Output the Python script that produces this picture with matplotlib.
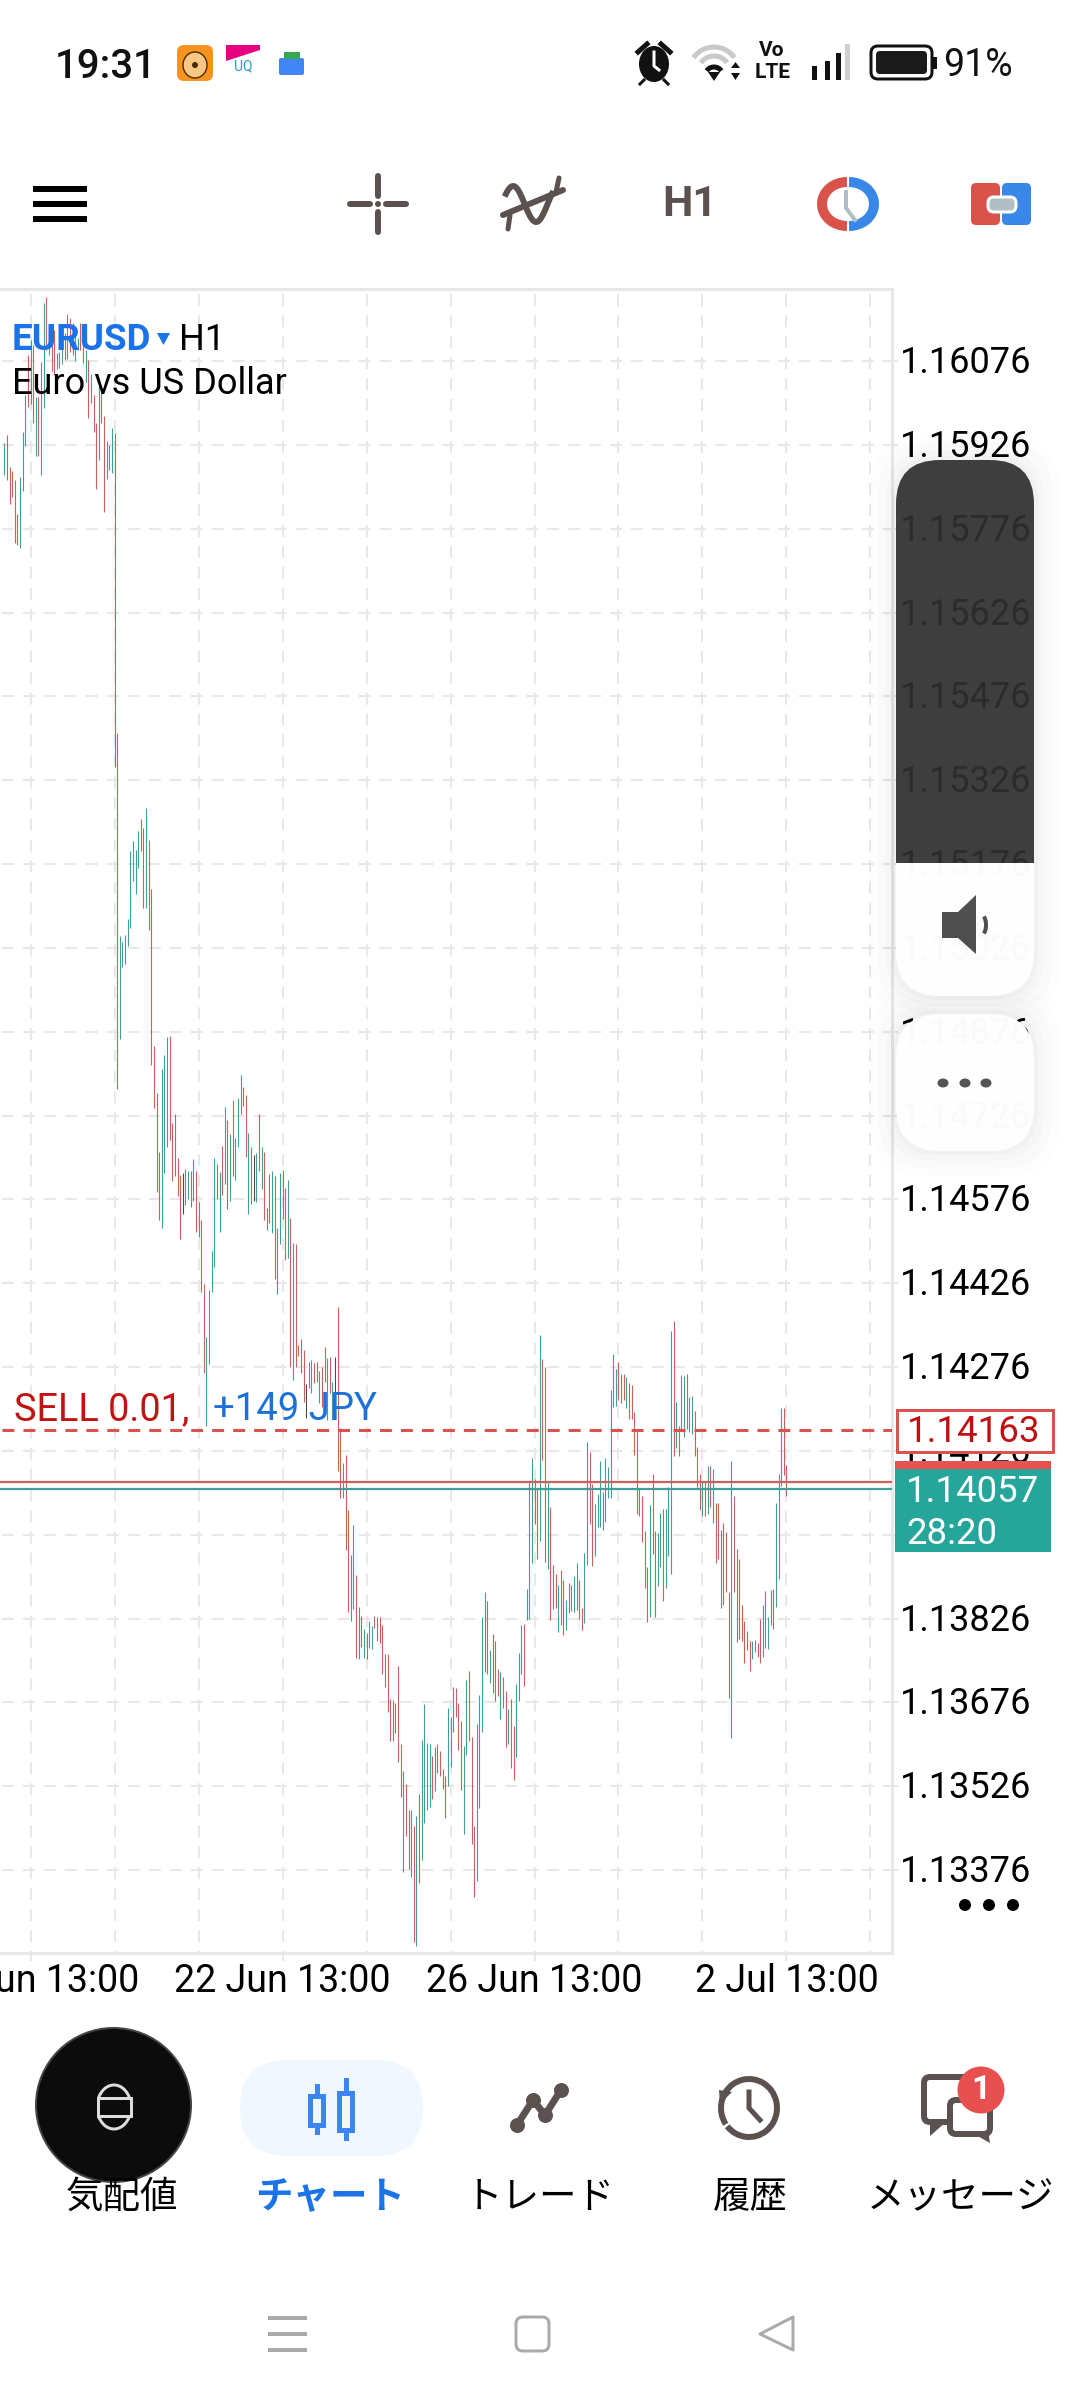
import matplotlib.pyplot as plt
import numpy as np
from matplotlib.patches import Circle, Ellipse, FancyBboxPatch, Polygon, Rectangle, Arc
from matplotlib.transforms import ScaledTranslation

plt.rcParams['font.family'] = ['Roboto', 'Noto Sans CJK JP', 'DejaVu Sans']
plt.rcParams['lines.scale_dashes'] = False

# EURUSD H1 bars
high = [
    1.15929, 1.15944, 1.15886, 1.15879, 1.15863, 1.15802, 1.15869, 1.15949, 1.16015, 1.16087,
    1.16114, 1.16105, 1.16012, 1.16012, 1.16074, 1.16180, 1.16191, 1.16131, 1.16131, 1.16131,
    1.16090, 1.16092, 1.16105, 1.16126, 1.16160, 1.16153, 1.16144, 1.16131, 1.16117, 1.16144,
    1.16140, 1.16096, 1.16078, 1.16053, 1.16015, 1.15965, 1.16033, 1.16024, 1.15978, 1.15933,
    1.15926, 1.15956, 1.15947, 1.15410, 1.15047, 1.15036, 1.15049, 1.15078, 1.15199, 1.15217,
    1.15201, 1.15235, 1.15257, 1.15240, 1.15276, 1.15219, 1.15131, 1.14850, 1.14766, 1.14661,
    1.14809, 1.14834, 1.14866, 1.14868, 1.14713, 1.14729, 1.14650, 1.14620, 1.14623, 1.14630,
    1.14627, 1.14627, 1.14648, 1.14627, 1.14571, 1.14539, 1.14425, 1.14330, 1.14414, 1.14484,
    1.14650, 1.14639, 1.14625, 1.14672, 1.14741, 1.14718, 1.14693, 1.14754, 1.14686, 1.14757,
    1.14798, 1.14777, 1.14763, 1.14695, 1.14670, 1.14655, 1.14659, 1.14729, 1.14670, 1.14661,
    1.14561, 1.14621, 1.14627, 1.14618, 1.14525, 1.14623, 1.14629, 1.14596, 1.14611, 1.14543,
    1.14498, 1.14496, 1.14315, 1.14326, 1.14306, 1.14246, 1.14285, 1.14289, 1.14283, 1.14285,
    1.14269, 1.14276, 1.14312, 1.14292, 1.14294, 1.14249, 1.14294, 1.14383, 1.14167, 1.14104,
    1.14119, 1.14020, 1.13940, 1.13993, 1.13904, 1.13847, 1.13830, 1.13807, 1.13800, 1.13822,
    1.13813, 1.13830, 1.13829, 1.13829, 1.13814, 1.13763, 1.13763, 1.13682, 1.13680, 1.13675,
    1.13741, 1.13602, 1.13553, 1.13530, 1.13483, 1.13483, 1.13455, 1.13473, 1.13512, 1.13609,
    1.13673, 1.13603, 1.13602, 1.13580, 1.13596, 1.13602, 1.13589, 1.13557, 1.13544, 1.13666,
    1.13650, 1.13703, 1.13702, 1.13675, 1.13643, 1.13598, 1.13716, 1.13732, 1.13614, 1.13455,
    1.13637, 1.13689, 1.13829, 1.13873, 1.13857, 1.13770, 1.13798, 1.13786, 1.13736, 1.13730,
    1.13721, 1.13696, 1.13664, 1.13682, 1.13634, 1.13709, 1.13764, 1.13814, 1.13816, 1.13879,
    1.14070, 1.14113, 1.14076, 1.14058, 1.14333, 1.14290, 1.14276, 1.14070, 1.14025, 1.13922,
    1.13906, 1.13886, 1.13913, 1.13895, 1.13859, 1.13890, 1.13886, 1.13902, 1.13925, 1.13895,
    1.13845, 1.13943, 1.14142, 1.14124, 1.14067, 1.14031, 1.14049, 1.14108, 1.14052, 1.14113,
    1.14097, 1.14235, 1.14299, 1.14272, 1.14285, 1.14264, 1.14264, 1.14258, 1.14247, 1.14244,
    1.14195, 1.14163, 1.14058, 1.14045, 1.13983, 1.13918, 1.14029, 1.14085, 1.13983, 1.13979,
    1.14015, 1.14022, 1.14022, 1.14061, 1.14340, 1.14358, 1.14213, 1.14171, 1.14262, 1.14260,
    1.14264, 1.14222, 1.14224, 1.14197, 1.14133, 1.14085, 1.14072, 1.14072, 1.14099, 1.14099,
    1.14094, 1.14033, 1.14033, 1.13984, 1.13997, 1.13981, 1.13873, 1.14108, 1.14045, 1.13950,
    1.13932, 1.13850, 1.13822, 1.13804, 1.13786, 1.13786, 1.13788, 1.13782, 1.13825, 1.13850,
    1.13875, 1.13829, 1.13877, 1.13879, 1.14033, 1.14085, 1.14203, 1.14203, 1.14101,
]
low = [
    1.15872, 1.15863, 1.15820, 1.15833, 1.15750, 1.15747, 1.15741, 1.15843, 1.15924, 1.15994,
    1.15999, 1.15965, 1.15906, 1.15906, 1.15872, 1.15992, 1.16096, 1.16087, 1.16058, 1.16051,
    1.16062, 1.16063, 1.16071, 1.16078, 1.16080, 1.16092, 1.16087, 1.16076, 1.16096, 1.16096,
    1.16072, 1.16038, 1.15974, 1.16001, 1.15949, 1.15847, 1.15899, 1.15965, 1.15806, 1.15865,
    1.15881, 1.15876, 1.15350, 1.14773, 1.14863, 1.14992, 1.14997, 1.15029, 1.15062, 1.15146,
    1.15122, 1.15169, 1.15199, 1.15097, 1.15097, 1.15058, 1.14816, 1.14740, 1.14589, 1.14539,
    1.14525, 1.14623, 1.14670, 1.14682, 1.14609, 1.14618, 1.14582, 1.14505, 1.14550, 1.14566,
    1.14577, 1.14562, 1.14573, 1.14518, 1.14509, 1.14410, 1.14265, 1.14171, 1.14281, 1.14410,
    1.14455, 1.14577, 1.14518, 1.14584, 1.14604, 1.14559, 1.14573, 1.14618, 1.14611, 1.14670,
    1.14729, 1.14743, 1.14652, 1.14550, 1.14568, 1.14573, 1.14571, 1.14627, 1.14595, 1.14539,
    1.14521, 1.14534, 1.14516, 1.14434, 1.14407, 1.14496, 1.14541, 1.14468, 1.14471, 1.14276,
    1.14253, 1.14276, 1.14296, 1.14265, 1.14213, 1.14185, 1.14239, 1.14230, 1.14247, 1.14249,
    1.14212, 1.14205, 1.14249, 1.14181, 1.14230, 1.14181, 1.14217, 1.14090, 1.14042, 1.14042,
    1.13949, 1.13838, 1.13822, 1.13843, 1.13755, 1.13754, 1.13775, 1.13755, 1.13754, 1.13773,
    1.13771, 1.13809, 1.13786, 1.13782, 1.13727, 1.13703, 1.13659, 1.13607, 1.13607, 1.13621,
    1.13569, 1.13507, 1.13372, 1.13437, 1.13378, 1.13364, 1.13247, 1.13240, 1.13353, 1.13394,
    1.13460, 1.13483, 1.13489, 1.13503, 1.13517, 1.13550, 1.13544, 1.13521, 1.13469, 1.13526,
    1.13560, 1.13623, 1.13650, 1.13591, 1.13519, 1.13440, 1.13582, 1.13607, 1.13423, 1.13328,
    1.13356, 1.13487, 1.13623, 1.13730, 1.13727, 1.13711, 1.13693, 1.13678, 1.13687, 1.13646,
    1.13666, 1.13596, 1.13602, 1.13559, 1.13537, 1.13578, 1.13678, 1.13727, 1.13705, 1.13823,
    1.13825, 1.13925, 1.13995, 1.13932, 1.13965, 1.14110, 1.13927, 1.13915, 1.13823, 1.13843,
    1.13845, 1.13802, 1.13814, 1.13797, 1.13805, 1.13836, 1.13839, 1.13838, 1.13841, 1.13825,
    1.13805, 1.13818, 1.13922, 1.13995, 1.13920, 1.13938, 1.13990, 1.13990, 1.13984, 1.13999,
    1.14042, 1.14042, 1.14205, 1.14206, 1.14217, 1.14212, 1.14217, 1.14203, 1.14183, 1.14183,
    1.14119, 1.14013, 1.14009, 1.13963, 1.13881, 1.13820, 1.13829, 1.13941, 1.13829, 1.13884,
    1.13918, 1.13857, 1.13881, 1.13938, 1.13906, 1.14117, 1.14131, 1.14117, 1.14165, 1.14151,
    1.14165, 1.14160, 1.14156, 1.14117, 1.14061, 1.14020, 1.14009, 1.14009, 1.14013, 1.14025,
    1.13997, 1.13925, 1.13932, 1.13845, 1.13850, 1.13873, 1.13684, 1.13612, 1.13873, 1.13784,
    1.13789, 1.13786, 1.13746, 1.13770, 1.13732, 1.13754, 1.13766, 1.13757, 1.13746, 1.13757,
    1.13773, 1.13771, 1.13814, 1.13807, 1.13847, 1.13897, 1.14063, 1.14083, 1.14045,
]
# u = up bar, d = down bar, n = open equals close
direction = (
    'uddddduuud' 'ududuududd' 'uuududduud' 'dududduddu' 'uudduuuuuu'
    'uudduddddd' 'uuudddddnu' 'udududduuu' 'ududududuu' 'uddudnudud'
    'dduduuddud' 'uddddnuudd' 'uddudunddu' 'dduudududu' 'uddddddddu'
    'dduddududu' 'uuududdddu' 'uuddduuddd' 'uuuududddu' 'ddudduuudu'
    'uudduddudd' 'dudduduuud' 'duudduuuuu' 'uuuudddudd' 'dddddduddu'
    'uduuududuu' 'duudddudud' 'uddudddudd' 'ddddduuddu' 'uuuduuudd'
)

price_ticks = [1.16076, 1.15926, 1.15776, 1.15626, 1.15476, 1.15326, 1.15176, 1.15026, 1.14876,
               1.14726, 1.14576, 1.14426, 1.14276, 1.14126, 1.13976, 1.13826, 1.13676, 1.13526,
               1.13376]
date_ticks = [10, 106, 202, 298]
date_labels = ['', '22 Jun 13:00', '26 Jun 13:00', '2 Jul 13:00']
minor_ticks = [42, 74, 138, 170, 234, 266, 330]

sell_price = 1.14163
ask_price = 1.14071
bid_price = 1.14057

TEAL = '#3f9f96'
RED = '#c9605c'
GRID = '#e8e8e8'
ICON = '#5b514f'
BLUE = '#1a73e8'
bar_colors = {'u': TEAL, 'd': RED, 'n': '#4b4b4b'}

fig = plt.figure(figsize=(10.8, 24), dpi=100)

# chart panel, 0..892 px wide and 289..1953 px down the screen
ax = fig.add_axes([0, (2400 - 1953) / 2400, 892 / 1080, (1953 - 289) / 2400])
ax.set_xlim(-1.64, 338.2)
ax.set_ylim(1.132275, 1.162049)

idx = np.arange(len(high))
ax.vlines(idx, low, high, colors=[bar_colors[d] for d in direction], linewidth=0.8, zorder=3)

ax.axhline(sell_price, color='#d9534f', linewidth=2.2, linestyle=(13.7, (8.6, 6.5)), zorder=4)
ax.axhline(ask_price, color='#cf5f5b', linewidth=1.6, zorder=4)
ax.axhline(bid_price, color='#3f9f96', linewidth=1.6, zorder=4)

ax.set_xticks(date_ticks, labels=date_labels)
ax.set_xticks(minor_ticks, minor=True)
ax.set_yticks(price_ticks, labels=[f'{p:.5f}' for p in price_ticks])
ax.yaxis.tick_right()
ax.grid(which='both', axis='x', color=GRID, linewidth=1.5, linestyle=(7.2, (8.6, 6.5)), zorder=1)
ax.grid(which='major', axis='y', color=GRID, linewidth=1.5, linestyle=(13.7, (8.6, 6.5)), zorder=1)
ax.set_axisbelow(True)
ax.tick_params(axis='x', which='major', length=6, width=1.5, color=GRID, labelsize=27, pad=1)
ax.tick_params(axis='x', which='minor', length=0)
ax.tick_params(axis='y', length=4, width=1.5, color=GRID, labelsize=26, pad=1.5)
for lab in ax.get_yticklabels():
    lab.set_transform(lab.get_transform() + ScaledTranslation(0, 2 / 100, fig.dpi_scale_trans))
ax.spines['left'].set_visible(False)
for side in ['top', 'right', 'bottom']:
    ax.spines[side].set_color(GRID)
    ax.spines[side].set_linewidth(2.1)

# everything else is screen furniture, drawn in screen pixels
ui = fig.add_axes([0, 0, 1, 1], zorder=10)
ui.set_xlim(0, 1080)
ui.set_ylim(2400, 0)
ui.axis('off')
ui.patch.set_alpha(0)


def px(w):
    return w * 0.72


def rounded(x0, y0, x1, y1, r, **kw):
    p = FancyBboxPatch((x0 + r, y0 + r), x1 - x0 - 2 * r, y1 - y0 - 2 * r,
                       boxstyle=f'round,pad={r},rounding_size={r}', **kw)
    ui.add_patch(p)
    return p


# first date label is cut by the screen edge, only its tail shows
ui.text(139, 1992, 'un 13:00', fontsize=27, color='black', ha='right', va='baseline')

# status bar
ui.text(55, 78, '19:31', fontsize=29, weight='medium', color='#111111', va='baseline')
rounded(177, 45, 213, 81, 7, fc='#f7931e', ec='none')
ui.add_patch(Ellipse((195, 65), 24, 26, fc='#f9c784', ec='#4a2a00', lw=1))
ui.add_patch(Circle((195, 65), 3, fc='#4a2a00', ec='none'))
ui.add_patch(Polygon([(226, 45), (260, 45), (260, 50), (226, 61)], fc='#e6007e', ec='none'))
ui.text(243, 66, 'UQ', fontsize=10, color='#1d9bd8', ha='center', va='center')
rounded(279, 58, 304, 75, 2, fc='#4285f4', ec='none')
ui.add_patch(Rectangle((284, 52), 16, 7, fc='#34a853', ec='none'))

ui.add_patch(Ellipse((654, 64), 30, 36, fc='#111111', ec='none'))
ui.plot([654, 654, 659], [52, 66, 70], color='white', lw=px(3))
ui.plot([638, 647], [52, 44], color='#111111', lw=px(5))
ui.plot([661, 670], [44, 52], color='#111111', lw=px(5))
ui.plot([644, 640], [80, 84], color='#111111', lw=px(3))
ui.plot([664, 668], [80, 84], color='#111111', lw=px(3))

ui.add_patch(Arc((714, 72), 50, 50, theta1=215, theta2=325, color='#c9c9c9', lw=px(5)))
ui.add_patch(Arc((714, 72), 32, 32, theta1=215, theta2=325, color='#c9c9c9', lw=px(5)))
ui.add_patch(Arc((714, 76), 18, 18, theta1=215, theta2=325, color='#111111', lw=px(5)))
ui.add_patch(Polygon([(708, 72), (720, 72), (714, 81)], fc='#111111', ec='none'))
ui.add_patch(Polygon([(731, 68), (740, 68), (735.5, 62)], fc='#111111', ec='none'))
ui.add_patch(Polygon([(731, 73), (740, 73), (735.5, 80)], fc='#111111', ec='none'))

ui.text(772, 51, 'Vo', fontsize=15, weight='bold', color='#111111', ha='center', va='center')
ui.text(773, 72, 'LTE', fontsize=15, weight='bold', color='#111111', ha='center', va='center')
for bx, top, col in [(814, 66, '#111111'), (827, 61, '#111111'), (838, 53, '#111111'), (847, 44, '#d0d0d0')]:
    ui.add_patch(Rectangle((bx - 2.5, top), 5, 80 - top, fc=col, ec='none'))
rounded(871, 46, 932, 79, 7, fc='none', ec='#111111', lw=px(3))
rounded(876, 51, 927, 74, 4, fc='#1a1a1a', ec='none')
ui.add_patch(Rectangle((933, 57), 4, 12, fc='#111111', ec='none'))
ui.text(943, 76, '91%', fontsize=27, color='#111111', va='baseline')

# toolbar
for y in [189, 204, 219]:
    ui.add_patch(Rectangle((33, y - 3), 54, 6, fc='black', ec='none'))
ui.plot([378, 378], [176, 196], color=ICON, lw=px(6), solid_capstyle='round')
ui.plot([378, 378], [212, 232], color=ICON, lw=px(6), solid_capstyle='round')
ui.plot([350, 370], [204, 204], color=ICON, lw=px(6), solid_capstyle='round')
ui.plot([386, 406], [204, 204], color=ICON, lw=px(6), solid_capstyle='round')
ui.add_patch(Circle((378, 204), 3, fc=ICON, ec='none'))
wave_x = np.linspace(506, 552, 40)
ui.plot(wave_x, 204 - 18 * np.sin((wave_x - 506) / 46 * 2 * np.pi + 0.6), color=ICON, lw=px(6))
ui.plot([503, 563], [215, 190], color=ICON, lw=px(6), solid_capstyle='round')
ui.plot([510, 508], [215, 229], color=ICON, lw=px(5), solid_capstyle='round')
ui.plot([556, 559], [192, 178], color=ICON, lw=px(5), solid_capstyle='round')
ui.text(690, 204, 'H1', fontsize=31, weight='bold', color=ICON, ha='center', va='center')

ui.add_patch(Arc((847, 204), 50, 44, theta1=90, theta2=270, color='#d9534a', lw=px(10)))
ui.add_patch(Arc((849, 204), 50, 44, theta1=-90, theta2=90, color='#3a87ea', lw=px(10)))
ui.plot([846, 846, 855], [192, 208, 220], color='#b0bec5', lw=px(4))
rounded(971, 183, 1000, 225, 5, fc='#d9534a', ec='none')
rounded(1002, 183, 1031, 225, 5, fc='#3a87ea', ec='none')
rounded(988, 197, 1016, 212, 6, fc='#b0bec5', ec='white', lw=px(3))

# symbol and position texts on the chart
ui.text(12, 350, 'EURUSD', fontsize=26.5, weight='bold', color=BLUE, va='baseline', zorder=6)
ui.add_patch(Polygon([(157, 333), (170, 333), (163.5, 345)], fc=BLUE, ec='none'))
ui.text(179, 350, 'H1', fontsize=26, color='black', va='baseline', zorder=6)
ui.text(12, 394, 'Euro vs US Dollar', fontsize=26, color='black', va='baseline', zorder=6)
ui.text(14, 1420, 'SELL 0.01,', fontsize=27.3, color='#c01414', va='baseline')
ui.text(213, 1420, '+149 JPY', fontsize=27.5, color='#1c72d8', va='baseline')

# price boxes on the right
ui.add_patch(Rectangle((897, 1410), 156, 42, fc='white', ec='#d9534f', lw=px(3)))
ui.text(907, 1442, '1.14163', fontsize=26.4, color='#c00f0f', va='baseline')
ui.add_patch(Rectangle((895, 1461), 156, 9, fc='#e85350', ec='none'))
ui.add_patch(Rectangle((895, 1469), 156, 83, fc='#26a69a', ec='none'))
ui.text(906, 1502, '1.14057', fontsize=26.4, color='white', va='baseline')
ui.text(906, 1544, '28:20', fontsize=26.4, color='white', va='baseline')
for x in [965, 989, 1013]:
    ui.add_patch(Ellipse((x, 1905), 12, 12, fc='black', ec='none'))

# floating buttons with a soft shadow
for grow, a in [(26, 0.008), (18, 0.012), (10, 0.016), (4, 0.02)]:
    rounded(896 - grow, 460 - grow, 1034 + grow, 996 + grow, 44 + grow / 2, fc='black', ec='none', alpha=a)
    rounded(896 - grow, 1014 - grow, 1034 + grow, 1151 + grow, 44 + grow / 2, fc='black', ec='none', alpha=a)
light = rounded(896, 460, 1034, 996, 44, fc='white', ec='none', alpha=0.985)
light.set_clip_path(Rectangle((890, 863), 150, 140, transform=ui.transData))
dark = rounded(896, 460, 1034, 996, 44, fc='#2f2f2f', ec='none', alpha=0.92)
dark.set_clip_path(Rectangle((890, 450), 150, 413, transform=ui.transData))
rounded(896, 1014, 1034, 1151, 44, fc='white', ec='none', alpha=0.985)
ui.add_patch(Polygon([(942, 912), (958, 912), (976, 895), (976, 954), (958, 938), (942, 938)],
                     fc='#4f4f4f', ec='none', joinstyle='round'))
ui.add_patch(Arc((979, 925), 14, 24, theta1=-60, theta2=60, color='#4f4f4f', lw=px(4)))
for x in [943, 965, 986]:
    ui.add_patch(Ellipse((x, 1083), 11, 9, fc='#555555', ec='none'))

# bottom navigation
tabs = ['気配値', 'チャート', 'トレード', '履歴', 'メッセージ']
tab_x = [122, 330, 540, 750, 960]
for name, x in zip(tabs, tab_x):
    sel = name == 'チャート'
    ui.text(x, 2208, name, fontsize=27, family=['Noto Sans CJK JP', 'DejaVu Sans'],
            weight='bold' if sel else 'normal', color=BLUE if sel else 'black', ha='center', va='baseline')

ui.add_patch(Ellipse((113.5, 2105), 155, 154, fc='#0c0c0c', ec='#444444', lw=px(2)))
ui.add_patch(Rectangle((98, 2098), 33, 18, fc='none', ec='#dddddd', lw=px(3)))
ui.add_patch(Arc((114, 2107), 34, 44, theta1=210, theta2=330, color='#dddddd', lw=px(3)))
ui.add_patch(Arc((114, 2107), 34, 44, theta1=30, theta2=150, color='#dddddd', lw=px(3)))

rounded(240, 2060, 423, 2156, 48, fc='#f0f7ff', ec='none')
CANDLE = '#3b86f0'
ui.plot([316.5, 316.5], [2086, 2132], color=CANDLE, lw=px(5))
ui.plot([345.5, 345.5], [2080, 2138], color=CANDLE, lw=px(5))
ui.add_patch(Rectangle((310, 2096), 13, 29, fc='#f0f7ff', ec=CANDLE, lw=px(5), zorder=5))
ui.add_patch(Rectangle((339, 2093), 13, 37, fc='#f0f7ff', ec=CANDLE, lw=px(5), zorder=5))

node_x = [517, 533, 545, 561]
node_y = [2125, 2100, 2115, 2090]
ui.plot(node_x, node_y, color=ICON, lw=px(7))
ui.plot(node_x, node_y, 'o', color=ICON, ms=px(15), mew=0)

ui.add_patch(Arc((749, 2108), 56, 58, theta1=-215, theta2=140, color=ICON, lw=px(6)))
ui.add_patch(Polygon([(719, 2090), (732, 2092), (720, 2104)], fc=ICON, ec='none'))
ui.plot([749, 749, 760], [2092, 2108, 2120], color=ICON, lw=px(5))

rounded(924, 2077, 972, 2122, 6, fc='none', ec=ICON, lw=px(6))
ui.add_patch(Polygon([(930, 2120), (930, 2136), (946, 2122)], fc=ICON, ec='none'))
rounded(950, 2100, 990, 2134, 6, fc='white', ec=ICON, lw=px(6))
ui.add_patch(Polygon([(988, 2130), (990, 2143), (974, 2134)], fc=ICON, ec='none'))
ui.add_patch(Ellipse((981, 2090), 47, 47, fc='#e84f4f', ec='none'))
ui.text(981, 2090, '1', fontsize=24, weight='bold', color='white', ha='center', va='center')

# android nav bar
NAV = '#aaaaaa'
for y in [2318, 2334, 2350]:
    ui.plot([270, 305], [y, y], color=NAV, lw=px(4))
rounded(516, 2317, 549, 2351, 7, fc='none', ec=NAV, lw=px(3))
ui.add_patch(Polygon([(793, 2317), (760, 2334), (793, 2350)], fc='none', ec=NAV, lw=px(3), joinstyle='round'))

fig.savefig('out.png', dpi=100)
